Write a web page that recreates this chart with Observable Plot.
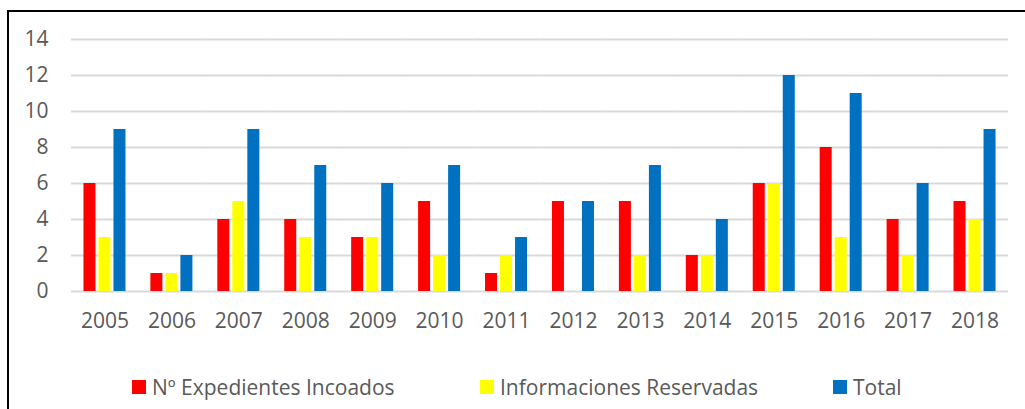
<!DOCTYPE html>
<html><head><meta charset="utf-8">
<script src="https://cdn.jsdelivr.net/npm/d3@7"></script>
<script src="https://cdn.jsdelivr.net/npm/@observablehq/plot@0.6"></script>
<style>
body{margin:0;background:#fff;width:1025px;height:409px;overflow:hidden;position:relative;font-family:"Open Sans",sans-serif;}
#frame{position:absolute;left:7px;top:10px;width:1040px;height:420px;border:2px solid #000;box-sizing:border-box;}
#chart{position:absolute;left:0;top:0;}
.leg{position:absolute;top:373px;display:flex;align-items:center;font-size:21px;color:#595959;white-space:nowrap;}
.sw{width:14px;height:14px;margin-right:6px;}
</style></head><body>
<div id="frame"></div>
<div id="chart"></div>
<div id="legend"></div>
<script>
const years = ["2005","2006","2007","2008","2009","2010","2011","2012","2013","2014","2015","2016","2017","2018"];
const expedientes = [6,1,4,4,3,5,1,5,5,2,6,8,4,5];
const informaciones = [3,1,5,3,3,2,2,0,2,2,6,3,2,4];
const total = [9,2,9,7,6,7,3,5,7,4,12,11,6,9];
const seriesNames = ["Nº Expedientes Incoados","Informaciones Reservadas","Total"];
const seriesColors = ["#FF0000","#FFFF00","#0070C0"];
const yTicks = [0,2,4,6,8,10,12,14];

const seriesValues = [expedientes, informaciones, total];
const rows = years.flatMap((yr,i) => seriesNames.map((s,j) => ({year: yr, series: s, value: seriesValues[j][i]})));

const chart = Plot.plot({
  width: 1025,
  height: 345,
  marginLeft: 71,
  marginRight: 17,
  marginTop: 39,
  marginBottom: 54,
  style: {fontSize: "21px", color: "#595959", fontFamily: "'Open Sans', sans-serif", background: "transparent"},
  fx: {domain: years, padding: 0, round: false, label: null, tickSize: 0, tickPadding: 22},
  x: {domain: seriesNames, paddingInner: 0.2, paddingOuter: 0.83, round: false, axis: null},
  y: {domain: [0,14], ticks: yTicks, tickSize: 0, tickPadding: 23, label: null},
  color: {domain: seriesNames, range: seriesColors},
  marks: [
    Plot.ruleY(yTicks, {stroke: "#d9d9d9", strokeWidth: 2}),
    Plot.barY(rows, {fx: "year", x: "series", y: "value", fill: "series"})
  ]
});
document.getElementById("chart").appendChild(chart);

const legendLeft = [132, 480, 833];
const legend = document.getElementById("legend");
seriesNames.forEach((s,i) => {
  const d = document.createElement("div");
  d.className = "leg";
  d.style.left = legendLeft[i] + "px";
  d.innerHTML = `<div class="sw" style="background:${seriesColors[i]}"></div><span>${s}</span>`;
  legend.appendChild(d);
});
</script>
</body></html>
